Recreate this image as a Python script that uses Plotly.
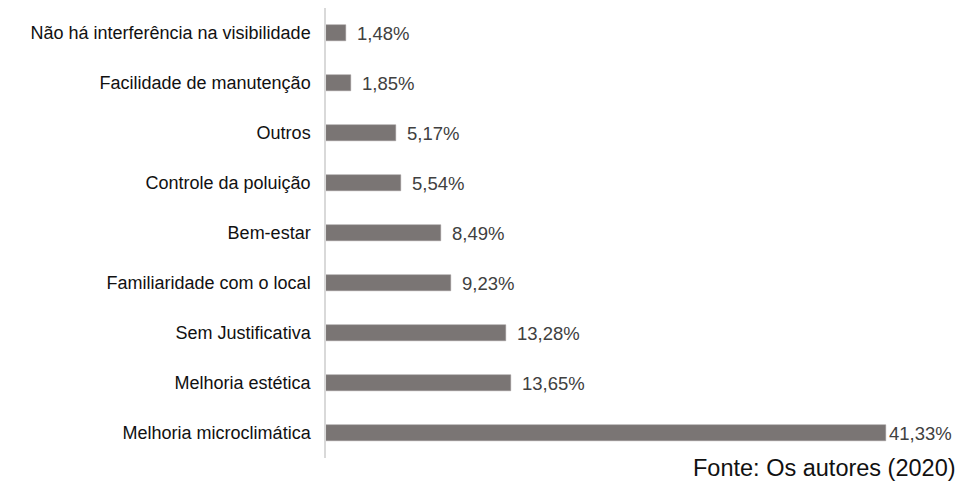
import plotly.graph_objects as go

categories = [
    "Não há interferência na visibilidade",
    "Facilidade de manutenção",
    "Outros",
    "Controle da poluição",
    "Bem-estar",
    "Familiaridade com o local",
    "Sem Justificativa",
    "Melhoria estética",
    "Melhoria microclimática",
]
values = [1.48, 1.85, 5.17, 5.54, 8.49, 9.23, 13.28, 13.65, 41.33]
labels = ["1,48%", "1,85%", "5,17%", "5,54%", "8,49%", "9,23%", "13,28%", "13,65%", "41,33%"]

bar_color = "#7a7574"
FONT = "Liberation Sans, Arial"

fig = go.Figure(go.Bar(
    x=values, y=categories, orientation="h",
    marker=dict(color=bar_color, line=dict(color="#9a9594", width=0.5)),
    width=0.33, hoverinfo="skip",
))

for v, c, t in zip(values, categories, labels):
    fig.add_annotation(
        x=v, y=c, text=t, showarrow=False, xanchor="left",
        xshift=1 if v > 40 else 9,
        font=dict(family=FONT, size=18.5, color="#404040"),
    )

fig.add_annotation(
    x=1, y=0, xref="paper", yref="paper", xanchor="right", yanchor="middle",
    text="Fonte: Os autores (2020)", showarrow=False, xshift=71, yshift=-10,
    font=dict(family=FONT, size=23.5, color="#111111"),
)

# page body has an 8px margin, so the figure is sized/offset to compensate
fig.update_layout(
    width=955, height=473,
    margin=dict(l=318, r=76, t=0, b=23),
    paper_bgcolor="white", plot_bgcolor="white",
    showlegend=False,
    bargap=0,
    xaxis=dict(range=[0, 41.4], visible=False, fixedrange=True),
    yaxis=dict(
        autorange="reversed", showgrid=False, zeroline=False,
        showline=True, linecolor="#d9d9d9", linewidth=1.5,
        ticks="", ticklabelstandoff=10,
        tickfont=dict(family=FONT, size=18, color="#111111"),
    ),
)

fig.write_html("out.html")
